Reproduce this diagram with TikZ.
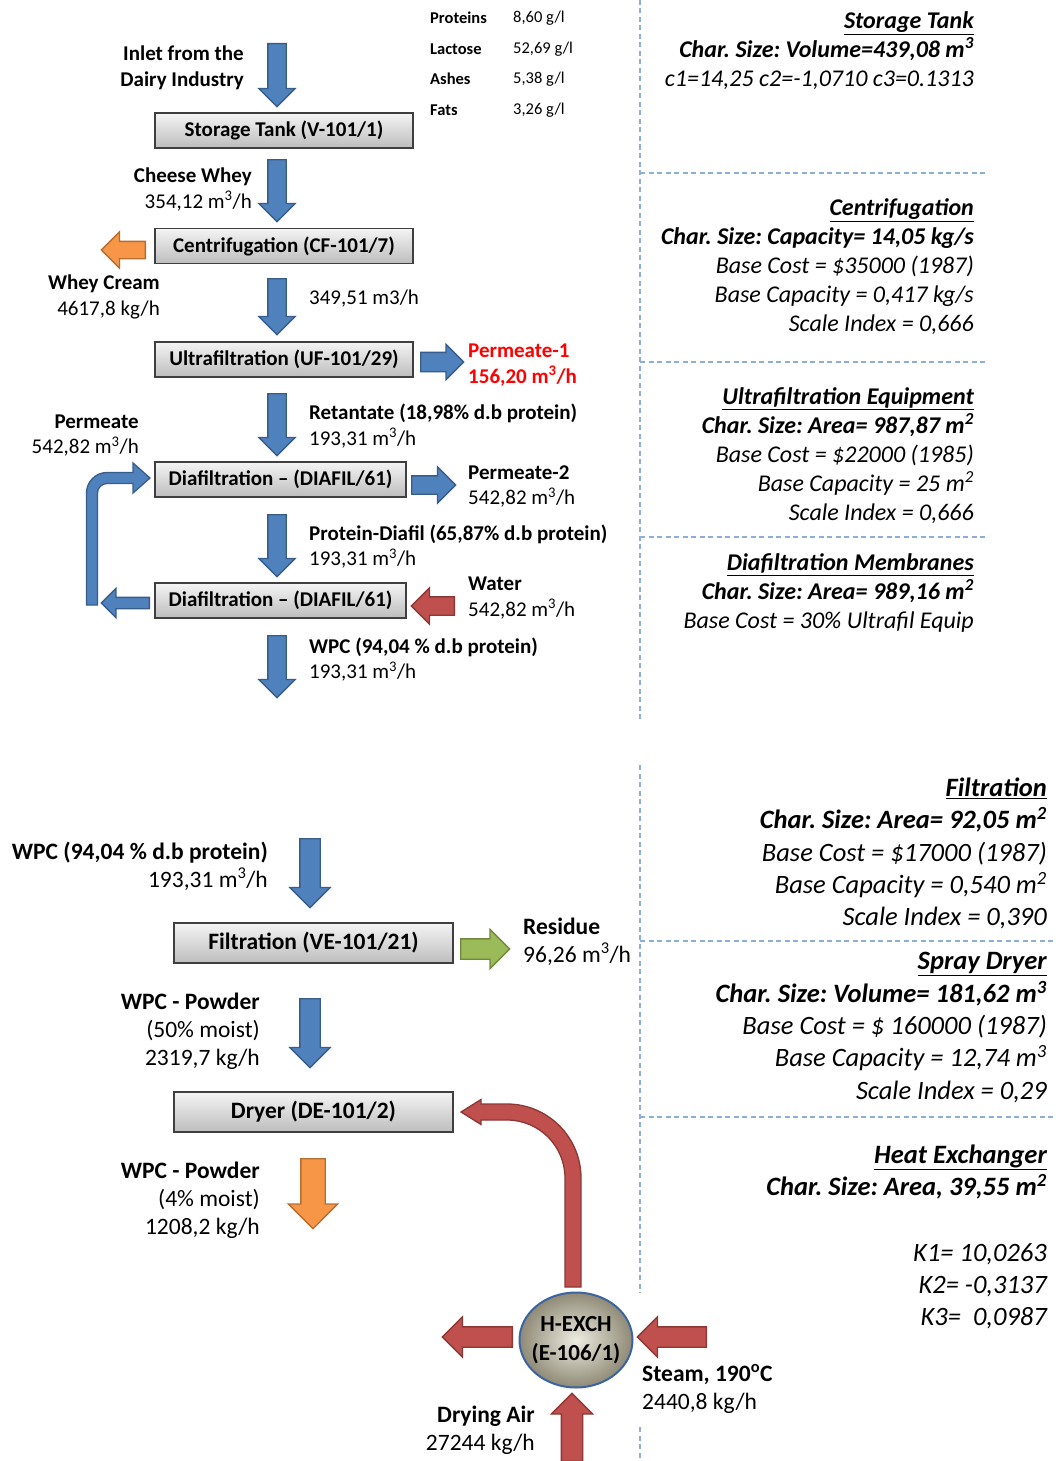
\documentclass[tikz,border=0pt]{standalone}
\usepackage{fontspec}
\setmainfont{Carlito}
\usetikzlibrary{shapes.arrows,shapes.geometric}
\definecolor{bluef}{HTML}{4F81BD}
\definecolor{blued}{HTML}{385D8A}
\definecolor{orangef}{HTML}{F79646}
\definecolor{oranged}{HTML}{B66D31}
\definecolor{redf}{HTML}{C0504D}
\definecolor{redd}{HTML}{8C3836}
\definecolor{greenf}{HTML}{9BBB59}
\definecolor{greend}{HTML}{71893F}
\definecolor{dashc}{HTML}{8EAED8}
\definecolor{boxtop}{HTML}{F4F4F4}
\definecolor{boxbot}{HTML}{BDBDBD}
\definecolor{boxline}{HTML}{3F3F3F}
\definecolor{hxin}{HTML}{EEECE1}
\definecolor{hxout}{HTML}{8F8A76}
\definecolor{hxline}{HTML}{3B64A0}
\newcommand\hdr[1]{\underline{\textbf{#1}}}
\newcommand\mcub{m\textsuperscript{3}}
\newcommand\msq{m\textsuperscript{2}}
\frenchspacing
\begin{document}
\begin{tikzpicture}[x=1pt,y=-1pt,
  box/.style={draw=boxline, line width=1.2pt, top color=boxtop, bottom color=boxbot,
    inner sep=0pt, minimum height=35pt, font=\fontsize{21}{25}\selectfont\bfseries},
  bbox/.style={box, minimum height=40pt, minimum width=279pt, font=\fontsize{23.5}{28}\selectfont\bfseries},
  blk/.style={single arrow, inner xsep=0pt, single arrow head indent=0pt,
    single arrow tip angle=90, line width=1.3pt, anchor=tail},
  barr/.style={blk, draw=blued, fill=bluef},
  oarr/.style={blk, draw=oranged, fill=orangef},
  rarr/.style={blk, draw=redd, fill=redf},
  garr/.style={blk, draw=greend, fill=greenf},
  asz/.style n args={3}{minimum height=#1, inner ysep=#2, single arrow head extend=#3},
  lab/.style={inner sep=0pt, font=\fontsize{21}{25.6}\selectfont},
  labb/.style={inner sep=0pt, font=\fontsize{21}{25.6}\selectfont\bfseries},
  comp/.style={inner sep=0pt, anchor=west, font=\fontsize{16.5}{20}\selectfont},
  compb/.style={inner sep=0pt, anchor=west, font=\fontsize{16.5}{20}\selectfont\bfseries},
  blab/.style={inner sep=0pt, font=\fontsize{23.5}{28}\selectfont},
  rt/.style={inner sep=0pt, anchor=east, align=right, font=\fontsize{24}{29}\selectfont\itshape},
  rb/.style={inner sep=0pt, anchor=east, align=right, font=\fontsize{26.5}{32.3}\selectfont\itshape},
  sep/.style={draw=dashc, line width=1.2pt, dash pattern=on 5pt off 3.5pt}
]
\fill[white] (0,0) rectangle (1055,1461);
\useasboundingbox (0,0) rectangle (1055,1461);

% separators
\draw[sep] (640,0) -- (640,720);
\draw[sep] (640,173) -- (985,173);
\draw[sep] (640,362) -- (985,362);
\draw[sep] (640,537) -- (985,537);
\draw[sep] (640,765) -- (640,1293);
\draw[sep] (640,1427) -- (640,1461);
\draw[sep] (640,941) -- (1055,941);
\draw[sep] (640,1117) -- (1055,1117);

% process boxes
\node[box, minimum width=258pt] (st) at (284,130.5) {Storage Tank (V-101/1)};
\node[box, minimum width=258pt] (cf) at (284,246) {Centrifugation (CF-101/7)};
\node[box, minimum width=258pt] (uf) at (284,359.5) {Ultrafiltration (UF-101/29)};
\node[box, minimum width=251pt] (df1) at (280.5,479.5) {Diafiltration -- (DIAFIL/61)};
\node[box, minimum width=251pt] (df2) at (280.5,600.5) {Diafiltration -- (DIAFIL/61)};
\node[bbox] (fl) at (313.5,943) {Filtration (VE-101/21)};
\node[bbox] (dr) at (313.5,1112) {Dryer (DE-101/2)};

% heat exchanger
\node[ellipse, draw=hxline, line width=2pt, inner color=hxin, outer color=hxout,
  minimum width=113pt, minimum height=95pt, inner sep=0pt] (hx) at (576,1340) {};
\node[align=center, inner sep=0pt, font=\fontsize{23}{29}\selectfont\bfseries] (hxt) at (hx.center) {H-EXCH\\(E-106/1)};

% block arrows
\node[barr, asz={63pt}{8.5pt}{9pt}, rotate=-90] (a1) at (277,43) {};
\node[barr, asz={62pt}{8.5pt}{9pt}, rotate=-90] (a2) at (277,159) {};
\node[barr, asz={56pt}{8.5pt}{9pt}, rotate=-90] (a3) at (277,278) {};
\node[barr, asz={62pt}{8.5pt}{9pt}, rotate=-90] (a4) at (277,393) {};
\node[barr, asz={62pt}{8.5pt}{9pt}, rotate=-90] (a5) at (277,514) {};
\node[barr, asz={62pt}{8.5pt}{9pt}, rotate=-90] (a6) at (277,635) {};
\node[oarr, asz={44pt}{8pt}{9.5pt}, rotate=180] (a7) at (146,250) {};
\node[barr, asz={43pt}{9pt}{8pt}] (a8) at (420,362) {};
\node[barr, asz={44pt}{8.5pt}{9pt}] (a9) at (411,485) {};
\node[rarr, asz={43pt}{8.5pt}{9pt}, rotate=180] (a10) at (455,606) {};
\node[barr, asz={48pt}{5pt}{9pt}, rotate=180] (a11) at (150,603) {};
\node[garr, asz={49pt}{9.5pt}{9.5pt}] (a12) at (460,949) {};
\node[barr, asz={69pt}{9.5pt}{10pt}, rotate=-90] (a13) at (310,838) {};
\node[barr, asz={69pt}{9.5pt}{10pt}, rotate=-90] (a14) at (310,998) {};
\node[oarr, asz={70pt}{11.5pt}{12.5pt}, rotate=-90] (a15) at (313,1158) {};
\node[rarr, asz={70pt}{9.5pt}{10pt}, rotate=180] (a16) at (513,1337) {};
\node[rarr, asz={69pt}{9.5pt}{10pt}, rotate=180] (a17) at (707,1337) {};
\node[rarr, asz={68pt}{10pt}{10pt}, rotate=90] (a18) at (572,1462) {};

% bent recycle arrow
\draw[draw=blued, fill=bluef, line width=1.3pt]
  (86.5,605) -- (86.5,493) arc[start angle=180, end angle=270, radius=20.5]
  -- (133,472.5) -- (133,463) -- (150,478) -- (133,493) -- (133,483.5)
  -- (107,483.5) arc[start angle=270, end angle=180, radius=9.5]
  -- (97.5,605) -- cycle;

% curved hot-air arrow
\draw[draw=redd, fill=redf, line width=1.3pt]
  (581,1287) -- (581,1178) arc[start angle=0, end angle=-90, radius=74]
  -- (481,1104) -- (481,1099.5) -- (461,1112) -- (481,1124.5) -- (481,1120)
  -- (507,1120) arc[start angle=-90, end angle=0, radius=58]
  -- (565,1287) -- cycle;

% composition table
\node[compb] (cp1) at (430,18) {Proteins};
\node[compb] (cp2) at (430,49) {Lactose};
\node[compb] (cp3) at (430,79) {Ashes};
\node[compb] (cp4) at (430,110) {Fats};
\node[comp] (cv1) at (513,18) {8,60 g/l};
\node[comp] (cv2) at (513,49) {52,69 g/l};
\node[comp] (cv3) at (513,79) {5,38 g/l};
\node[comp] (cv4) at (513,110) {3,26 g/l};

% top-left labels
\node[labb, anchor=east, align=right] (inlet) at (244,68) {Inlet from the\\Dairy Industry};
\node[lab, anchor=east, align=right] (cw) at (252,189.5) {\textbf{Cheese Whey}\\354,12 \mcub/h};
\node[lab, anchor=east, align=right] (wc) at (160,297) {\textbf{Whey Cream}\\4617,8 kg/h};
\node[lab, anchor=west] (f3) at (309,299) {349,51 m3/h};
\node[labb, anchor=west, align=left, text=red] (p1) at (468,365) {Permeate-1\\156,20 \mcub/h};
\node[lab, anchor=west, align=left] (ret) at (309,426) {\textbf{Retantate (18,98\% d.b protein)}\\193,31 \mcub/h};
\node[lab, anchor=east, align=right] (perm) at (139,435.5) {\textbf{Permeate}\\542,82 \mcub/h};
\node[lab, anchor=west, align=left] (p2) at (468,486.5) {\textbf{Permeate-2}\\542,82 \mcub/h};
\node[lab, anchor=west, align=left] (pd) at (309,546.5) {\textbf{Protein-Diafil (65,87\% d.b protein)}\\193,31 \mcub/h};
\node[lab, anchor=west, align=left] (wt) at (468,598) {\textbf{Water}\\542,82 \mcub/h};
\node[lab, anchor=west, align=left] (wpc1) at (309,659.5) {\textbf{WPC (94,04 \% d.b protein)}\\193,31 \mcub/h};

% top-right equipment data
\node[rt] (rst) at (974,51) {\hdr{Storage Tank}\\\textbf{Char. Size: Volume=439,08 \mcub}\\c1=14,25 c2=-1,0710 c3=0.1313};
\node[rt] (rcf) at (974,266.5) {\hdr{Centrifugation}\\\textbf{Char. Size: Capacity= 14,05 kg/s}\\Base Cost = \$35000 (1987)\\Base Capacity = 0,417 kg/s\\Scale Index = 0,666};
\node[rt] (ruf) at (974,455.5) {\hdr{Ultrafiltration Equipment}\\\textbf{Char. Size: Area= 987,87 \msq}\\Base Cost = \$22000 (1985)\\Base Capacity = 25 \msq\\Scale Index = 0,666};
\node[rt] (rdm) at (974,593) {\hdr{Diafiltration Membranes}\\\textbf{Char. Size: Area= 989,16 \msq}\\Base Cost = 30\% Ultrafil Equip};

% bottom-left labels
\node[blab, anchor=east, align=right] (wpc2) at (268,866) {\textbf{WPC (94,04 \% d.b protein)}\\193,31 \mcub/h};
\node[blab, anchor=west, align=left] (res) at (523,941.5) {\textbf{Residue}\\96,26 \mcub/h};
\node[blab, anchor=east, align=right] (pw1) at (260,1031.5) {\textbf{WPC - Powder}\\(50\% moist)\\2319,7 kg/h};
\node[blab, anchor=east, align=right] (pw2) at (260,1200) {\textbf{WPC - Powder}\\(4\% moist)\\1208,2 kg/h};
\node[blab, anchor=west, align=left] (stm) at (642,1388.5) {\textbf{Steam, 190\textsuperscript{o}C}\\2440,8 kg/h};
\node[blab, anchor=east, align=right] (air) at (535,1430.5) {\textbf{Drying Air}\\27244 kg/h};

% bottom-right equipment data
\node[rb] (rfl) at (1047,853.5) {\hdr{Filtration}\\\textbf{Char. Size: Area= 92,05 \msq}\\Base Cost = \$17000 (1987)\\Base Capacity = 0,540 \msq\\Scale Index = 0,390};
\node[rb] (rsd) at (1047,1027.5) {\hdr{Spray Dryer}\\\textbf{Char. Size: Volume= 181,62 \mcub}\\Base Cost = \$ 160000 (1987)\\Base Capacity = 12,74 \mcub\\Scale Index = 0,29};
\node[rb] (rhx) at (1047,1237) {\hdr{Heat Exchanger}\\\textbf{Char. Size: Area, 39,55 \msq}\\[33pt]K1= 10,0263\\K2= -0,3137\\K3=\ \ 0,0987};
\end{tikzpicture}
\end{document}
